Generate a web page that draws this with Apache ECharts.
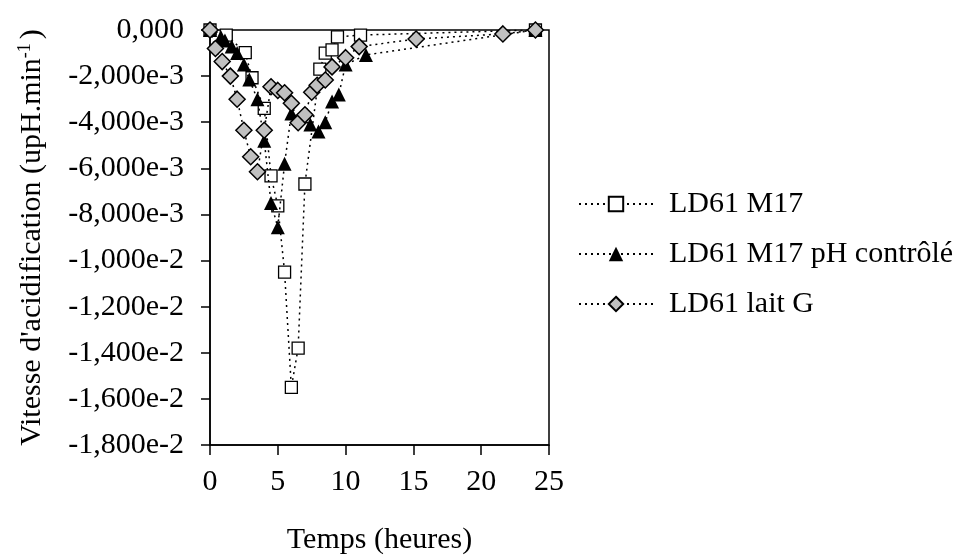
<!DOCTYPE html>
<html>
<head>
<meta charset="utf-8">
<script src="https://cdn.jsdelivr.net/npm/echarts@6/dist/echarts.min.js"></script>
<style>
  html, body { margin: 0; padding: 0; background: #fff; }
  #main { width: 967px; height: 560px; }
</style>
</head>
<body>
<div id="main"></div>
<script>
// time in hours, rates in units of 1e-3 upH/min
let m17Time = [0, 1.2, 2.6, 3.1, 4.0, 4.5, 5.0, 5.5, 6.0, 6.5, 7.0, 8.1, 8.5, 9.0, 9.4, 11.1, 24];
let m17Rate = [0, -0.22, -0.98, -2.07, -3.4, -6.33, -7.63, -10.5, -15.5, -13.8, -6.68, -1.7, -1.0, -0.86, -0.3, -0.22, 0];

let phTime = [0, 0.8, 1.1, 1.6, 2.0, 2.5, 2.9, 3.5, 4.0, 4.5, 5.0, 5.5, 6.0, 7.4, 8.0, 8.5, 9.0, 9.5, 10.0, 11.5, 24];
let phRate = [0, -0.3, -0.45, -0.72, -1.0, -1.5, -2.15, -3.0, -4.8, -7.5, -8.55, -5.8, -3.62, -4.1, -4.4, -4.0, -3.1, -2.8, -1.5, -1.08, 0];

let laitTime = [0, 0.4, 0.9, 1.5, 2.0, 2.5, 3.0, 3.5, 4.0, 4.5, 5.0, 5.5, 6.0, 6.5, 7.0, 7.5, 7.9, 8.5, 9.0, 10.0, 11.0, 15.2, 21.6, 24];
let laitRate = [0, -0.8, -1.37, -2.0, -3.0, -4.35, -5.5, -6.15, -4.35, -2.46, -2.62, -2.72, -3.18, -4.02, -3.68, -2.7, -2.4, -2.17, -1.6, -1.2, -0.72, -0.39, -0.17, 0];

let seriesNames = ["LD61 M17", "LD61 M17 pH contrôlé", "LD61 lait G"];

function pairs(t, r) {
  return t.map((x, i) => [x, r[i] * 1e-3]);
}

let font = "Liberation Serif";

let dotted = { color: "#000", width: 1.5, type: [2, 4] };

let myChart = echarts.init(document.getElementById("main"));

let options = {
  animation: false,
  grid: {
    left: 210, top: 30, right: 418, bottom: 115,
    show: true, borderColor: "#000", borderWidth: 1.5
  },
  legend: {
    orient: "vertical",
    left: 573, top: 184,
    itemWidth: 74, itemHeight: 18, itemGap: 20,
    data: seriesNames,
    textStyle: { fontFamily: font, fontSize: 30, color: "#000", padding: [0, 0, 0, 11] }
  },
  xAxis: {
    type: "value",
    min: 0, max: 25, interval: 5,
    name: "Temps (heures)",
    nameLocation: "middle",
    nameGap: 80,
    nameTextStyle: { fontFamily: font, fontSize: 30, color: "#000" },
    axisLine: { onZero: false, lineStyle: { color: "#000", width: 1.5 } },
    axisTick: { length: 10, lineStyle: { color: "#000", width: 1.5 } },
    axisLabel: { fontFamily: font, fontSize: 30, color: "#000", margin: 22 },
    splitLine: { show: false }
  },
  yAxis: {
    type: "value",
    min: -0.018, max: 0, interval: 0.002,
    name: "Vitesse d'acidification (upH.min{sup|-1})",
    nameLocation: "middle",
    nameGap: 162,
    nameTextStyle: {
      fontFamily: font, fontSize: 30, color: "#000",
      rich: { sup: { fontFamily: font, fontSize: 18, color: "#000", verticalAlign: "top", padding: [0, 4, 14, 0] } }
    },
    axisLine: { onZero: false, lineStyle: { color: "#000", width: 1.5 } },
    axisTick: { length: 9, lineStyle: { color: "#000", width: 1.5 } },
    axisLabel: {
      fontFamily: font, fontSize: 30, color: "#000", margin: 26,
      formatter: (v) => {
        if (Math.abs(v) < 1e-12) return "0,000";
        return v.toExponential(3).replace(".", ",");
      }
    },
    splitLine: { show: false }
  },
  series: [
    {
      name: seriesNames[0],
      type: "line",
      data: pairs(m17Time, m17Rate),
      symbol: "rect", symbolSize: 12,
      itemStyle: { color: "#fff", borderColor: "#000", borderWidth: 1.3 },
      lineStyle: dotted,
      clip: false, z: 2
    },
    {
      name: seriesNames[1],
      type: "line",
      data: pairs(phTime, phRate),
      symbol: "triangle", symbolSize: 14,
      itemStyle: { color: "#000", borderColor: "#000", borderWidth: 0 },
      lineStyle: dotted,
      clip: false, z: 3
    },
    {
      name: seriesNames[2],
      type: "line",
      data: pairs(laitTime, laitRate),
      symbol: "diamond", symbolSize: 16,
      itemStyle: { color: "#c0c0c0", borderColor: "#000", borderWidth: 1.5 },
      lineStyle: dotted,
      clip: false, z: 4
    }
  ]
};
myChart.setOption(options);
</script>
</body>
</html>
